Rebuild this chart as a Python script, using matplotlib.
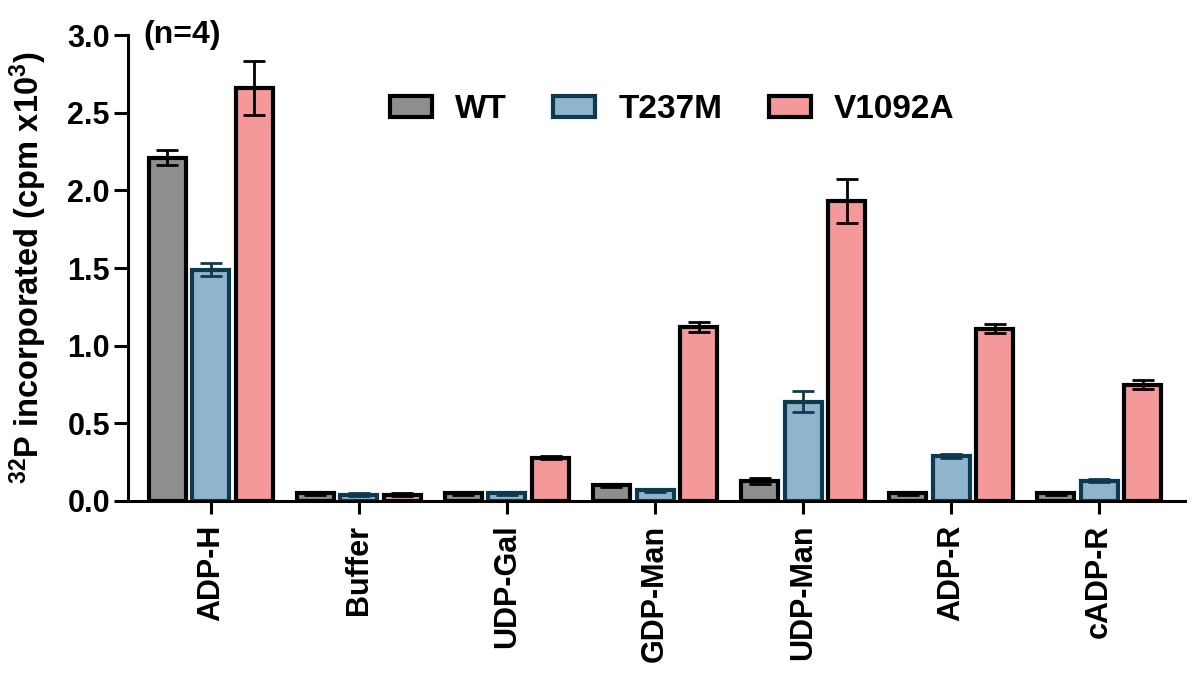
import matplotlib
matplotlib.use("Agg")
import matplotlib.pyplot as plt
import numpy as np
from matplotlib.patches import Patch

plt.rcParams['font.family'] = ['Liberation Sans', 'DejaVu Sans']
plt.rcParams['font.weight'] = 'bold'
plt.rcParams['mathtext.fontset'] = 'custom'
plt.rcParams['mathtext.rm'] = 'Liberation Sans:bold'
plt.rcParams['mathtext.bf'] = 'Liberation Sans:bold'
plt.rcParams['mathtext.default'] = 'bf'

categories = ["ADP-H", "Buffer", "UDP-Gal", "GDP-Man", "UDP-Man", "ADP-R", "cADP-R"]
series_names = ["WT", "T237M", "V1092A"]
wt = [2.21, 0.05, 0.05, 0.10, 0.13, 0.05, 0.05]
wt_err = [0.05, 0.01, 0.01, 0.01, 0.02, 0.01, 0.01]
t237m = [1.49, 0.04, 0.05, 0.07, 0.64, 0.29, 0.13]
t237m_err = [0.04, 0.01, 0.01, 0.01, 0.07, 0.01, 0.01]
v1092a = [2.66, 0.04, 0.28, 1.12, 1.93, 1.11, 0.75]
v1092a_err = [0.175, 0.01, 0.01, 0.03, 0.14, 0.03, 0.03]
yticks = [0.0, 0.5, 1.0, 1.5, 2.0, 2.5, 3.0]

fills = ["#8e8e8e", "#8fb4cb", "#f4989a"]
edges = ["#000000", "#0e3a4f", "#000000"]

fig = plt.figure(figsize=(12, 6.9), dpi=100)
ax = fig.add_axes([128/1200, 1-501/690, (1185-128)/1200, (501-35)/690])

x = np.arange(len(categories))
offset = 0.294
width = 0.25
data = [(wt, wt_err), (t237m, t237m_err), (v1092a, v1092a_err)]
for i, (vals, errs) in enumerate(data):
    pos = x + (i - 1) * offset
    ax.bar(pos, vals, width=width, color=fills[i], edgecolor=edges[i],
           linewidth=3, zorder=2, label=series_names[i])
    ax.errorbar(pos, vals, yerr=errs, fmt='none', ecolor=edges[i],
                elinewidth=2, capsize=8, capthick=2, zorder=3)

ax.set_xlim(-0.56, 6.58)
ax.set_ylim(0, 3.0)
ax.set_yticks(yticks)
ax.set_yticklabels([f"{v:.1f}" for v in yticks], fontsize=22, fontweight='bold')
ax.set_xticks(x)
ax.set_xticklabels(categories, rotation=90, fontsize=22, fontweight='bold')
for s in ['top', 'right']:
    ax.spines[s].set_visible(False)
for s in ['left', 'bottom']:
    ax.spines[s].set_linewidth(2.2)
ax.tick_params(axis='both', width=2.2, direction='out')
ax.tick_params(axis='x', length=9, pad=8)
ax.tick_params(axis='y', length=10, pad=3)

ax.set_ylabel("$^{32}$P incorporated (cpm x10$^{3}$)", fontsize=23.5,
              fontweight='bold', labelpad=13)

ax.text(0.015, 1.0, "(n=4)", transform=ax.transAxes, fontsize=23,
        fontweight='bold', va='center', ha='left')

handles = [Patch(facecolor=fills[i], edgecolor=edges[i], linewidth=3,
                 label=series_names[i]) for i in range(3)]
ax.legend(handles=handles, loc='center left', bbox_to_anchor=(0.232, 0.84),
          ncol=3, frameon=False, prop={'weight': 'bold', 'size': 24},
          handlelength=1.25, handleheight=0.6, handletextpad=0.7,
          columnspacing=1.4, borderpad=0.0)

fig.savefig("out.png", dpi=100)
